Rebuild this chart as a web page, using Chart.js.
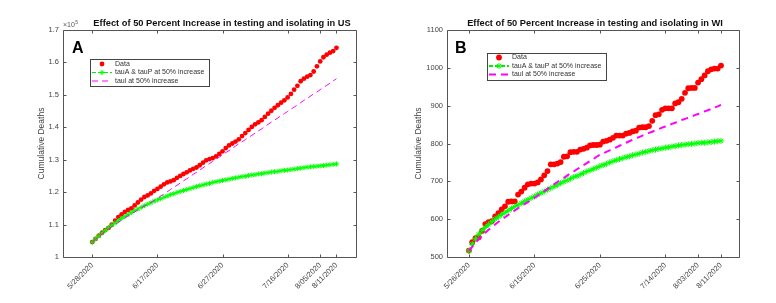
<!DOCTYPE html>
<html>
<head>
<meta charset="utf-8">
<script src="https://cdn.jsdelivr.net/npm/chart.js@4.4.1/dist/chart.umd.min.js"></script>
<style>
  html, body { margin: 0; padding: 0; background: #fff; }
  canvas { position: absolute; top: 0; }
  #chartA { left: 0; }
  #chartB { left: 388px; }
</style>
</head>
<body>
<canvas id="chartA" width="388" height="303"></canvas>
<canvas id="chartB" width="388" height="303"></canvas>
<script>
// --- US (panel A), one value per day from 5/28 ---
const usData = [104600, 105600, 106600, 107500, 108300, 109000, 110000, 111200, 112300, 113100,
  113900, 114500, 115000, 115900, 116800, 117700, 118500, 119000, 119600, 120400,
  121000, 121700, 122400, 123000, 123300, 123700, 124400, 125000, 125600, 126100,
  126700, 127200, 127600, 128300, 129100, 129800, 130200, 130500, 131000, 131800,
  132600, 133600, 134400, 135000, 135600, 136300, 137300, 138200, 139200, 140100,
  140900, 141500, 142200, 143200, 144200, 145100, 146000, 146800, 147600, 148300,
  149200, 150300, 151600, 152800, 154200, 155000, 155600, 156100, 157200, 158800,
  160300, 161600, 162400, 163000, 163500, 164500];
const usTauAP = [104600, 105600, 106500, 107400, 108200, 109000, 109800, 110500, 111200, 111900,
  112500, 113100, 113700, 114300, 114800, 115300, 115800, 116300, 116700, 117200,
  117600, 118000, 118400, 118800, 119200, 119500, 119900, 120200, 120500, 120800,
  121100, 121400, 121700, 122000, 122200, 122500, 122700, 123000, 123200, 123400,
  123600, 123800, 124000, 124200, 124400, 124600, 124800, 124900, 125100, 125300,
  125400, 125600, 125700, 125900, 126000, 126200, 126300, 126400, 126600, 126700,
  126800, 126950, 127100, 127250, 127400, 127550, 127700, 127800, 127900, 128000,
  128100, 128200, 128350, 128450, 128550, 128700];
const usTauI = [104600, 105500, 106300, 107100, 107900, 108600, 109300, 110000, 110700, 111400,
  112000, 112700, 113300, 113900, 114500, 115100, 115700, 116300, 116900, 117500,
  118100, 118800, 119400, 120100, 120800, 121500, 122100, 122800, 123500, 124100,
  124800, 125500, 126100, 126800, 127500, 128200, 128800, 129500, 130200, 130800,
  131500, 132200, 132800, 133500, 134200, 134900, 135500, 136200, 136900, 137500,
  138200, 138900, 139500, 140200, 140900, 141600, 142200, 142900, 143600, 144200,
  144900, 145600, 146200, 146900, 147600, 148300, 148900, 149600, 150300, 150900,
  151600, 152300, 152900, 153600, 154300, 155000];
const usTickDays = [0, 20, 40, 60, 70, 75];
const usTickLabels = ['5/28/2020', '6/17/2020', '6/27/2020', '7/16/2020', '8/05/2020', '8/11/2020'];

// --- WI (panel B), one value per day from 5/26 ---
const wiData = [517, 539, 550, 552, 569, 587, 592, 595, 607, 616,
  626, 634, 646, 647, 647, 665, 673, 683, 692, 694,
  694, 697, 705, 716, 727, 745, 745, 747, 751, 765,
  766, 777, 778, 778, 784, 786, 789, 795, 796, 796,
  797, 805, 807, 810, 815, 821, 821, 821, 826, 828,
  832, 834, 842, 843, 843, 846, 860, 875, 877, 889,
  893, 893, 893, 906, 909, 918, 934, 946, 947, 947,
  961, 970, 980, 991, 996, 998, 998, 1006];
const wiTauAP = [516, 534, 548, 560, 570, 578, 586, 593, 600, 606,
  612, 617, 623, 628, 633, 638, 642, 647, 651, 656,
  660, 665, 669, 673, 678, 682, 686, 690, 695, 699,
  703, 707, 711, 714, 718, 722, 726, 729, 733, 736,
  740, 743, 746, 750, 753, 756, 759, 761, 764, 766,
  769, 771, 773, 776, 778, 780, 782, 784, 786, 787,
  789, 790, 792, 793, 795, 796, 797, 798, 799, 800,
  801, 802, 802, 803, 804, 805, 806, 807];
const wiTauI = [516, 527, 538, 547, 556, 564, 572, 579, 586, 593,
  599, 605, 611, 617, 623, 629, 634, 640, 645, 650,
  656, 662, 668, 674, 680, 686, 692, 698, 704, 709,
  715, 721, 726, 732, 737, 743, 748, 754, 759, 765,
  770, 774, 778, 782, 786, 790, 794, 798, 802, 806,
  810, 814, 817, 821, 824, 828, 831, 835, 838, 842,
  845, 848, 852, 855, 858, 862, 865, 868, 871, 875,
  878, 881, 885, 888, 891, 895, 898, 902];
const wiTickDays = [0, 20, 40, 60, 70, 77];
const wiTickLabels = ['5/26/2020', '6/15/2020', '6/25/2020', '7/14/2020', '8/03/2020', '8/11/2020'];

const seriesLabels = ['Data', 'tauA & tauP at 50% increase', 'taul at 50% increase'];

Chart.defaults.font.family = '"Liberation Sans", Arial, sans-serif';
Chart.defaults.color = '#444';

const toPoints = arr => arr.map((v, i) => ({ x: i, y: v }));

// box, inward ticks, title, letter, y label and legend drawn on top of the plot
const decor = {
  id: 'decor',
  afterDatasetsDraw(chart, args, o) {
    const ctx = chart.ctx;
    const a = chart.chartArea;
    const sx = chart.scales.x, sy = chart.scales.y;
    ctx.save();

    const L = Math.round(a.left) + 0.5, R = Math.round(a.right) + 0.5;
    const T = Math.round(a.top) + 0.5, B = Math.round(a.bottom) + 0.5;
    ctx.strokeStyle = '#555';
    ctx.lineWidth = 1;
    ctx.setLineDash([]);
    ctx.beginPath();
    ctx.rect(L, T, R - L, B - T);
    sx.ticks.forEach(t => {
      const px = Math.round(sx.getPixelForValue(t.value)) + 0.5;
      ctx.moveTo(px, B); ctx.lineTo(px, B - 3);
      ctx.moveTo(px, T); ctx.lineTo(px, T + 3);
    });
    sy.ticks.forEach(t => {
      const py = Math.round(sy.getPixelForValue(t.value)) + 0.5;
      ctx.moveTo(L, py); ctx.lineTo(L + 3, py);
      ctx.moveTo(R, py); ctx.lineTo(R - 3, py);
    });
    ctx.stroke();

    // title
    ctx.fillStyle = '#111';
    ctx.textAlign = 'center';
    ctx.textBaseline = 'middle';
    ctx.font = 'bold 9.3px "Liberation Sans", Arial, sans-serif';
    ctx.fillText(o.title, o.titleX, 23);

    // panel letter
    ctx.textAlign = 'left';
    ctx.textBaseline = 'alphabetic';
    ctx.font = 'bold 16px "Liberation Sans", Arial, sans-serif';
    ctx.fillStyle = '#000';
    ctx.fillText(o.letter, o.letterX, 53);

    // y axis label
    ctx.save();
    ctx.translate(o.yLabelX, (a.top + a.bottom) / 2);
    ctx.rotate(-Math.PI / 2);
    ctx.textAlign = 'center';
    ctx.textBaseline = 'middle';
    ctx.font = '8.5px "Liberation Sans", Arial, sans-serif';
    ctx.fillStyle = '#444';
    ctx.fillText('Cumulative Deaths', 0, 0);
    ctx.restore();

    // exponent
    if (o.exponent) {
      ctx.font = '7px "Liberation Sans", Arial, sans-serif';
      ctx.fillStyle = '#555';
      const base = '\u00d710';
      ctx.fillText(base, a.left, 27);
      const w = ctx.measureText(base).width;
      ctx.font = '5px "Liberation Sans", Arial, sans-serif';
      ctx.fillText(o.exponent, a.left + w + 0.5, 24);
    }

    // legend
    const lg = o.legend;
    ctx.fillStyle = '#fff';
    ctx.fillRect(lg.x, lg.y, lg.w, lg.h);
    ctx.strokeStyle = '#444';
    ctx.lineWidth = 1;
    ctx.strokeRect(lg.x + 0.5, lg.y + 0.5, lg.w, lg.h);
    ctx.font = '7px "Liberation Sans", Arial, sans-serif';
    ctx.textBaseline = 'middle';
    chart.data.datasets.forEach((ds, i) => {
      const y = lg.y + lg.rowY[i];
      const x0 = lg.x + 2, x1 = lg.x + 22, xm = (x0 + x1) / 2;
      ctx.save();
      if (i === 0) {
        ctx.fillStyle = ds.pointBackgroundColor;
        ctx.beginPath();
        ctx.arc(xm, y, ds.pointRadius, 0, Math.PI * 2);
        ctx.fill();
      } else {
        ctx.strokeStyle = ds.borderColor;
        ctx.lineWidth = ds.borderWidth;
        ctx.setLineDash(ds.borderDash);
        ctx.beginPath();
        ctx.moveTo(x0, y); ctx.lineTo(x1, y);
        ctx.stroke();
        if (ds.pointRadius > 0) {
          ctx.setLineDash([]);
          ctx.strokeStyle = ds.pointBorderColor;
          ctx.lineWidth = ds.pointBorderWidth;
          Chart.helpers.drawPoint(ctx, { pointStyle: 'star', radius: ds.pointRadius, rotation: 0, borderWidth: ds.pointBorderWidth }, xm, y);
        }
      }
      ctx.restore();
      ctx.fillStyle = '#333';
      ctx.textAlign = 'left';
      ctx.fillText(ds.label, lg.x + 25, y);
    });

    ctx.restore();
  }
};

function makePanel(id, p) {
  return new Chart(document.getElementById(id), {
    type: 'line',
    data: {
      datasets: [
        { label: seriesLabels[0], data: toPoints(p.data), showLine: false,
          pointRadius: p.dotR, pointBackgroundColor: '#ff0000', pointBorderWidth: 0, order: 3 },
        { label: seriesLabels[1], data: toPoints(p.tauAP), borderColor: '#00ee00', borderWidth: p.lw,
          borderDash: [4, 2], pointStyle: 'star', pointRadius: p.starR, pointBorderColor: '#00ff00',
          pointBorderWidth: 1, fill: false, order: 2 },
        { label: seriesLabels[2], data: toPoints(p.tauI), borderColor: '#ff00ff', borderWidth: p.lw,
          borderDash: p.dash, pointRadius: 0, fill: false, order: 1 }
      ]
    },
    options: {
      responsive: false,
      animation: false,
      layout: { padding: { left: 0, right: p.padRight, top: 30, bottom: 0 } },
      plugins: {
        legend: { display: false },
        tooltip: { enabled: false },
        decor: p.decor
      },
      scales: {
        x: {
          type: 'linear', min: p.xMin, max: p.xMax,
          grid: { display: false, drawTicks: false },
          border: { display: false },
          afterBuildTicks: s => { s.ticks = p.tickDays.map(v => ({ value: v })); },
          afterFit: s => { s.height = 46; },
          ticks: {
            autoSkip: false, maxRotation: 45, minRotation: 45, padding: 4,
            font: { size: 7.5 }, color: '#444',
            callback: v => p.tickLabels[p.tickDays.indexOf(v)]
          }
        },
        y: {
          min: p.yMin, max: p.yMax,
          grid: { display: false, drawTicks: false },
          border: { display: false },
          afterFit: s => { s.width = p.yWidth; },
          ticks: { stepSize: p.yStep, padding: 4, font: { size: 7.5 }, color: '#444', callback: p.yFmt }
        }
      }
    },
    plugins: [decor]
  });
}

makePanel('chartA', {
  data: usData, tauAP: usTauAP, tauI: usTauI,
  tickDays: usTickDays, tickLabels: usTickLabels,
  xMin: -9, xMax: 81, yMin: 100000, yMax: 170000, yStep: 10000,
  yFmt: v => String(parseFloat((v / 1e5).toFixed(1))),
  yWidth: 63, padRight: 32, dotR: 2.4, starR: 2.5, lw: 1, dash: [6, 4],
  decor: {
    title: 'Effect of 50 Percent Increase in testing and isolating in US', titleX: 222,
    letter: 'A', letterX: 72, yLabelX: 42, exponent: '5',
    legend: { x: 90, y: 59, w: 119, h: 27, rowY: [5, 13.5, 22] }
  }
});

makePanel('chartB', {
  data: wiData, tauAP: wiTauAP, tauI: wiTauI,
  tickDays: wiTickDays, tickLabels: wiTickLabels,
  xMin: -6.7, xMax: 82.5, yMin: 500, yMax: 1100, yStep: 100,
  yFmt: v => String(v),
  yWidth: 59, padRight: 37, dotR: 2.9, starR: 3, lw: 2, dash: [7, 5],
  decor: {
    title: 'Effect of 50 Percent Increase in testing and isolating in WI', titleX: 207,
    letter: 'B', letterX: 67, yLabelX: 31, exponent: null,
    legend: { x: 99, y: 53, w: 119, h: 27, rowY: [4.5, 13, 21.5] }
  }
});
</script>
</body>
</html>
